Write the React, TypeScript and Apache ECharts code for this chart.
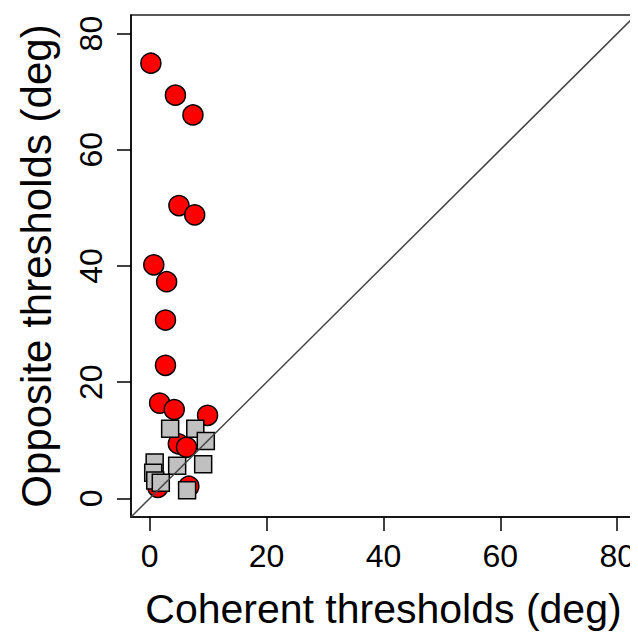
import React, { useEffect, useRef } from "react";
import * as echarts from "echarts";

const tickValues = [0, 20, 40, 60, 80];
const axisRange = [-3.2, 83.2];

const oppositeCircles: [number, number][] = [
  [0.2, 74.9], [4.4, 69.4], [7.4, 66.0], [5.0, 50.4], [7.7, 48.8],
  [0.7, 40.2], [2.9, 37.3], [2.7, 30.7], [2.7, 22.9], [1.7, 16.4],
  [4.2, 15.3], [9.9, 14.3], [4.9, 9.4], [6.3, 8.8], [1.4, 1.9], [6.7, 2.1],
];

const coherentSquares: [number, number][] = [
  [3.5, 12.0], [7.8, 12.0], [9.6, 9.9], [0.85, 6.2], [4.7, 5.6],
  [9.15, 5.9], [0.6, 4.4], [0.95, 3.1], [1.9, 2.7], [6.4, 1.4],
];

const identityLine: [number, number][] = [
  [-3.2, -3.2], [83.2, 83.2],
];

const FONT = "'Liberation Sans', Arial, sans-serif";

export default function App() {
  const ref = useRef<HTMLDivElement>(null);
  useEffect(() => {
    if (!ref.current) return;
    const chart = echarts.init(ref.current, null, { renderer: "svg" });
    const axisCommon = {
      type: "value" as const,
      min: axisRange[0],
      max: axisRange[1],
      splitLine: { show: false },
      axisLine: { show: true, onZero: false, lineStyle: { color: "#000", width: 1.5 } },
      axisTick: {
        show: true,
        inside: false,
        length: 14,
        customValues: tickValues,
        lineStyle: { color: "#000", width: 1.5 },
      },
      nameLocation: "middle" as const,
      nameTextStyle: { fontFamily: FONT, fontSize: 41, color: "#000" },
    };
    chart.setOption({
      animation: false,
      backgroundColor: "#fff",
      grid: {
        left: 131,
        top: 15,
        right: 1,
        bottom: 112,
        show: true,
        borderColor: "#222",
        borderWidth: 1.5,
      },
      xAxis: {
        ...axisCommon,
        name: "Coherent thresholds (deg)",
        nameGap: 71,
        axisLabel: {
          customValues: tickValues,
          margin: 23,
          fontFamily: FONT,
          fontSize: 32,
          color: "#000",
        },
      },
      yAxis: {
        ...axisCommon,
        name: "Opposite thresholds (deg)",
        nameGap: 74,
        nameTextStyle: { fontFamily: FONT, fontSize: 42, color: "#000" },
        axisLabel: {
          customValues: tickValues,
          rotate: 90,
          margin: 24,
          fontFamily: FONT,
          fontSize: 32,
          color: "#000",
        },
      },
      series: [
        {
          type: "scatter",
          data: oppositeCircles,
          symbol: "circle",
          symbolSize: 20,
          itemStyle: { color: "#ff0000", borderColor: "#000", borderWidth: 1.5, opacity: 1 },
          z: 2,
        },
        {
          type: "scatter",
          data: coherentSquares,
          symbol: "rect",
          symbolSize: 17,
          itemStyle: { color: "#c0c0c0", borderColor: "#000", borderWidth: 1.5, opacity: 1 },
          z: 3,
        },
        {
          type: "line",
          data: identityLine,
          symbol: "none",
          lineStyle: { color: "#444", width: 1.5 },
          z: 4,
        },
      ],
    });
    return () => chart.dispose();
  }, []);
  return <div ref={ref} style={{ width: 638, height: 634, marginLeft: -8, marginTop: -8 }} />;
}
